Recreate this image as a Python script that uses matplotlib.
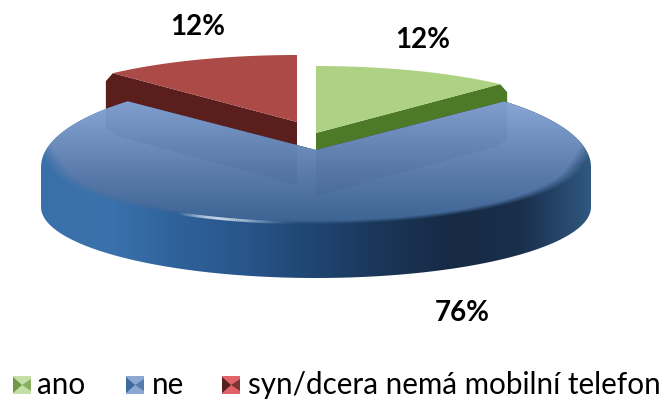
import numpy as np
import matplotlib
matplotlib.use("Agg")
import matplotlib.pyplot as plt
from matplotlib.colors import LinearSegmentedColormap, to_rgb
from matplotlib.patches import Polygon

categories = ["ano", "ne", "syn/dcera nemá mobilní telefon"]
shares = [12, 76, 12]
labels = ["12%", "76%", "12%"]

plt.rcParams["font.family"] = ["Lato", "DejaVu Sans"]

SMALL_RX, SMALL_RY = 269, 67


def ellipse_points(cx, cy, rx, ry, t0, t1, n=120):
    # angles in degrees, clockwise from 12 o'clock
    t = np.radians(np.linspace(t0, t1, n))
    return np.column_stack([cx + rx * np.sin(t), cy - ry * np.cos(t)])


def wedge_points(cx, cy, rx, ry, t0, t1):
    return np.vstack([[cx, cy], ellipse_points(cx, cy, rx, ry, t0, t1)])


def clip_to(ax, artist, points):
    patch = Polygon(points, closed=True, transform=ax.transData, fc="none", ec="none")
    ax.add_patch(patch)
    artist.set_clip_path(patch)


fig = plt.figure(figsize=(6.66, 4.03), dpi=100)
ax = fig.add_axes([0, 0, 1, 1])

# slice angles come from the shares
angle_ano = shares[0] * 3.6
angle_ne_end = (shares[0] + shares[1]) * 3.6

# --- red slice (exploded, back left)
red_c = (297, 122)
red_top = wedge_points(*red_c, SMALL_RX, SMALL_RY, angle_ne_end, 360)
red_end = red_top[1]
ax.add_patch(Polygon([red_c, red_end, (red_end[0] - 7, red_end[1] + 8),
                      (red_end[0] - 7, red_end[1] + 55),
                      (red_c[0], red_c[1] + 23)],
                     fc="#5a1f1c", ec="none", zorder=2))
ax.add_patch(Polygon(red_top, fc="#ab4a47", ec="none", zorder=3))

# --- green slice (exploded, back right)
green_c = (316, 133)
green_top = wedge_points(*green_c, SMALL_RX, SMALL_RY, 0, angle_ano)
green_end = green_top[-1]
ax.add_patch(Polygon([green_c, green_end, (green_end[0] + 7, green_end[1] + 8),
                      (green_end[0] + 7, green_end[1] + 55),
                      (green_c[0], green_c[1] + 19)],
                     fc="#4c7a27", ec="none", zorder=2))
ax.add_patch(Polygon(green_top, fc="#aed283", ec="none", zorder=3))

# --- blue slice outline: rounded shoulders, flat wall, rounded bottom
cx, apex_y = 316, 150
right_back = ellipse_points(cx, 167, 275, 90, angle_ano, 90, n=60)
left_back = ellipse_points(cx, 167, 275, 90, 270, angle_ne_end, n=60)
lower = ellipse_points(cx, 207, 275, 71, 90, 270)
silhouette = np.vstack([[cx, apex_y], right_back, lower, left_back])

# side wall, horizontal shading
side_cmap = LinearSegmentedColormap.from_list(
    "side", ["#3a70a9", "#3a72ad", "#2f6199", "#28558a", "#1f4570",
             "#1a3557", "#162a45", "#1a2f4c", "#2f5880"])
im = ax.imshow(np.linspace(0, 1, 256).reshape(1, -1), cmap=side_cmap, aspect="auto",
               extent=[cx - 275, cx + 275, 290, 90], zorder=4, interpolation="bilinear")
clip_to(ax, im, silhouette)

# top face, vertical shading with a soft bevel towards the wall
rim_cy, rim_rx, rim_ry = 158, 264, 65
yy, xx = np.mgrid[0:403, 0:666] + 0.5
stops_y = [100, 130, 170, 222]
stops = np.array([to_rgb(c) for c in ["#8aa8d6", "#7595c5", "#5c7dad", "#3d6493"]])
rgba = np.zeros((403, 666, 4))
for k in range(3):
    rgba[..., k] = np.interp(yy, stops_y, stops[:, k])
rx_at_y = np.interp(yy, [135, 165], [282, rim_rx])
r = np.hypot((xx - cx) / rx_at_y, np.clip(yy - rim_cy, 0, None) / rim_ry)
rgba[..., 3] = np.clip((1.02 - r) / 0.06, 0, 1)
im = ax.imshow(rgba, extent=[0, 666, 403, 0], aspect="auto", zorder=5,
               interpolation="bilinear")
clip_to(ax, im, silhouette)

# faint ghost of the two small slices seen through the glossy top
ghost_shift = 63
for c, end, sign in [(red_c, red_end, -1), (green_c, green_end, 1)]:
    ghost = [c, end, (end[0] + sign * 7, end[1]),
             (end[0] + sign * 7, end[1] + ghost_shift - 8),
             (end[0] - sign * 5, end[1] + ghost_shift),
             (c[0], c[1] + ghost_shift)]
    p = Polygon(ghost, fc="#27406a", ec="none", alpha=0.08, zorder=6)
    ax.add_patch(p)
    clip_to(ax, p, silhouette)

# highlight on the front rim
rim = ellipse_points(cx, rim_cy, rim_rx, rim_ry, 212, 184, n=60)
for i in range(len(rim) - 1):
    a = np.sin(np.pi * (i / 59) ** 0.7) ** 2 * 0.85
    ax.plot(rim[i:i + 2, 0], rim[i:i + 2, 1], color="#dfeaf6", alpha=a,
            lw=2, solid_capstyle="butt", zorder=7)

# --- data labels
label_pos = [(423, 40), (462, 313), (198, 27)]
for text, (x, y) in zip(labels, label_pos):
    ax.text(x, y, text, ha="center", va="center", fontsize=20,
            fontweight="bold", color="black", zorder=8)

# --- legend
key_colors = [("#c4dfa6", "#6f9a45"), ("#8aa8d0", "#3f6a9f"), ("#e0636a", "#55201f")]
key_x = [13, 126, 222]
text_x = [37, 152, 248]
key_y, key_size = 385, 18
for name, (light, dark), kx, tx in zip(categories, key_colors, key_x, text_x):
    x0, x1 = kx, kx + key_size
    y0, y1 = key_y - key_size / 2, key_y + key_size / 2
    mid = (kx + key_size / 2, key_y)
    ax.add_patch(Polygon([(x0, y0), (x1, y0), (x1, y1), (x0, y1)], fc=light, ec="none"))
    ax.add_patch(Polygon([(x0, y0 + 1), mid, (x0, y1 - 1)], fc=dark, ec="none"))
    ax.add_patch(Polygon([(x1, y0 + 3), mid, (x1, y1 - 3)], fc=dark, ec="none", alpha=0.7))
    ax.text(tx, key_y, name, ha="left", va="center", fontsize=21.3, color="black")

ax.set_xlim(0, 666)
ax.set_ylim(403, 0)
ax.axis("off")
fig.savefig("out.png", dpi=100, facecolor="white")
